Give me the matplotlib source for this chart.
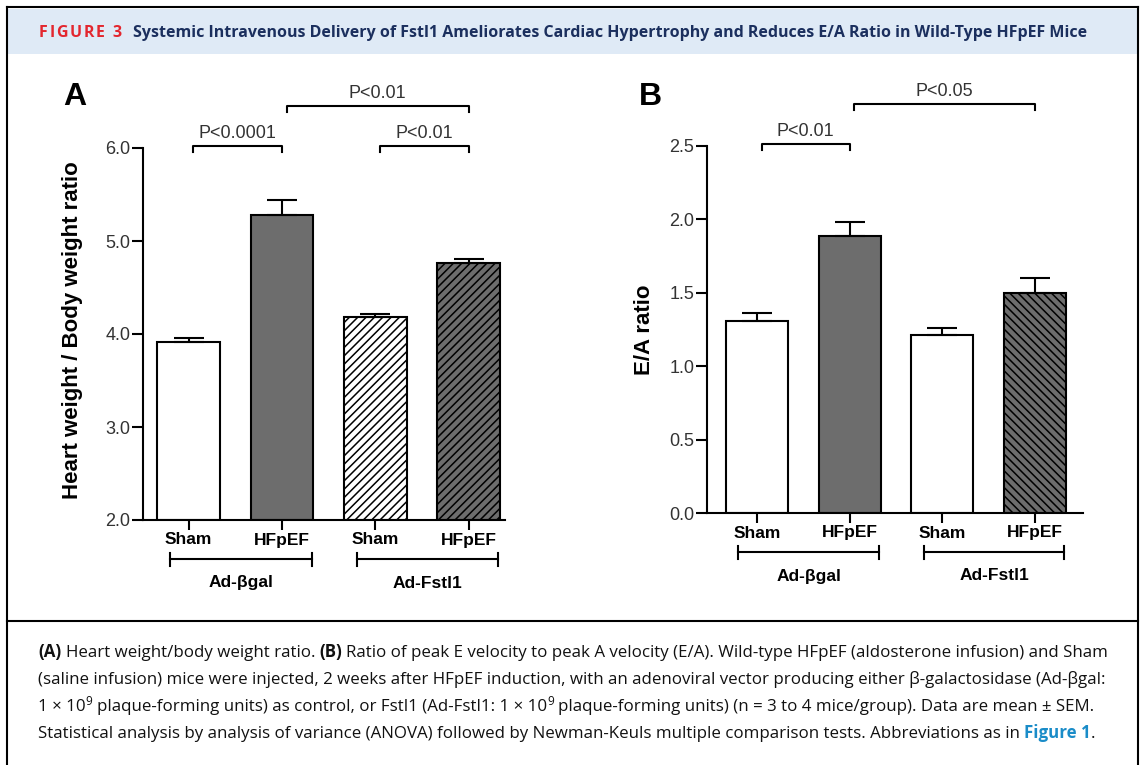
import matplotlib
matplotlib.use('Agg')
import numpy as np
import matplotlib.pyplot as plt
from matplotlib.patches import Rectangle
from matplotlib.lines import Line2D

W, H, DPI = 1142, 765, 100

# values
conditions = ['Sham', 'HFpEF', 'Sham', 'HFpEF']
groups = ['Ad-βgal', 'Ad-Fstl1']
group_members = [(0, 1), (2, 3)]

hw_ratio = [3.91, 5.28, 4.18, 4.76]
hw_sem = [0.05, 0.16, 0.03, 0.05]
hw_ticks = [2.0, 3.0, 4.0, 5.0, 6.0]
hw_pvals = [(0, 1, 'P<0.0001'), (1, 3, 'P<0.01'), (2, 3, 'P<0.01')]

ea_ratio = [1.31, 1.89, 1.21, 1.50]
ea_sem = [0.05, 0.09, 0.05, 0.10]
ea_ticks = [0.0, 0.5, 1.0, 1.5, 2.0, 2.5]
ea_pvals = [(0, 1, 'P<0.01'), (1, 3, 'P<0.05')]

fig_label = 'FIGURE 3'
title = ('Systemic Intravenous Delivery of Fstl1 Ameliorates Cardiac Hypertrophy '
         'and Reduces E/A Ratio in Wild-Type HFpEF Mice')

REG, BOLD, SUP, LINK = 'reg', 'bold', 'sup', 'link'
caption = [
    [('(A)', BOLD), (' Heart weight/body weight ratio. ', REG), ('(B)', BOLD),
     (' Ratio of peak E velocity to peak A velocity (E/A). Wild-type HFpEF '
      '(aldosterone infusion) and Sham', REG)],
    [('(saline infusion) mice were injected, 2 weeks after HFpEF induction, with an '
      'adenoviral vector producing either β-galactosidase (Ad-βgal:', REG)],
    [('1 × 10', REG), ('9', SUP),
     (' plaque-forming units) as control, or Fstl1 (Ad-Fstl1: 1 × 10', REG), ('9', SUP),
     (' plaque-forming units) (n = 3 to 4 mice/group). Data are mean ± SEM.', REG)],
    [('Statistical analysis by analysis of variance (ANOVA) followed by Newman-Keuls '
      'multiple comparison tests. Abbreviations as in ', REG), ('Figure 1', LINK), ('.', REG)],
]

GRAY = '#6d6d6d'
TXT = '#333333'
plt.rcParams['font.family'] = ['Liberation Sans', 'DejaVu Sans']
plt.rcParams['hatch.linewidth'] = 1.1

fig = plt.figure(figsize=(W / DPI, H / DPI), dpi=DPI)
renderer = fig.canvas.get_renderer()


def fx(x):
    return x / W


def fy(y):
    return 1 - y / H


def text_width(s, **kw):
    t = fig.text(0, 0, s, **kw)
    w = t.get_window_extent(renderer).width
    t.remove()
    return w


def bar_panel(rect, xlim, means, sems, ticks, fills, hatches, pvals, letter, letter_x):
    x0, y0, x1, y1 = rect
    ax = fig.add_axes([fx(x0), fy(y1), (x1 - x0) / W, (y1 - y0) / H])
    ax_h = y1 - y0
    x = np.arange(len(means))
    base = ticks[0]
    bars = ax.bar(x, np.array(means) - base, bottom=base, width=0.67, color=fills,
                  edgecolor='black', linewidth=1.5, zorder=2)
    for b, h in zip(bars, hatches):
        if h:
            b.set_hatch(h)
    ax.errorbar(x, means, yerr=[np.zeros(len(means)), sems], fmt='none', ecolor='black',
                elinewidth=1.5, capsize=11, capthick=1.5, zorder=3)

    ax.set_xlim(*xlim)
    ax.set_ylim(ticks[0], ticks[-1])
    for side in ['top', 'right']:
        ax.spines[side].set_visible(False)
    for side in ['left', 'bottom']:
        ax.spines[side].set_linewidth(1.5)
    ax.set_yticks(ticks)
    ax.set_yticklabels([f'{t:.1f}' for t in ticks])
    ax.set_xticks(x)
    ax.set_xticklabels(conditions, fontweight='bold', fontsize=12.5)
    ax.tick_params(axis='y', length=8, width=1.5, labelsize=13, labelcolor=TXT, pad=1)
    ax.tick_params(axis='x', length=7, width=1.5, pad=2)

    trans = ax.get_xaxis_transform()
    # significance brackets
    for i, j, label in pvals:
        level = 0 if j - i == 1 else 1
        yb = 1 + (2 + 40 * level) / ax_h
        tip = 6 / ax_h
        xa = i + 0.05
        ax.add_line(Line2D([xa, xa, j, j], [yb - tip, yb, yb, yb - tip], transform=trans,
                           color='black', lw=1.5, clip_on=False))
        ax.text((xa + j) / 2, yb + 8 / ax_h, label, transform=trans, ha='center',
                va='baseline', fontsize=13, color=TXT)

    # group brackets under the x axis
    for (a, b), name in zip(group_members, groups):
        ga, gb = a - 0.2, b + 0.32
        yg = -39 / ax_h
        cap = 6.5 / ax_h
        ax.add_line(Line2D([ga, gb], [yg, yg], transform=trans, color='black', lw=1.5,
                           clip_on=False))
        for gx in (ga, gb):
            ax.add_line(Line2D([gx, gx], [yg - cap, yg + cap], transform=trans,
                               color='black', lw=1.5, clip_on=False))
        ax.text((ga + gb) / 2, -63 / ax_h, name, transform=trans, ha='center', va='center',
                fontsize=12.5, fontweight='bold')

    fig.text(fx(letter_x), fy(97), letter, fontsize=23, fontweight='bold', ha='center',
             va='center')
    return ax


ax_a = bar_panel((143, 148, 505, 520), (-0.49, 3.39), hw_ratio, hw_sem, hw_ticks,
                 ['white', GRAY, 'white', GRAY], [None, None, '////', '////'], hw_pvals,
                 'A', 75)
fig.text(fx(73), fy(330), 'Heart weight / Body weight ratio', rotation=90, ha='center',
         va='center', fontsize=16, fontweight='bold')

ax_b = bar_panel((707, 146, 1083, 513), (-0.54, 3.52), ea_ratio, ea_sem, ea_ticks,
                 ['white', GRAY, 'white', GRAY], [None, None, None, '\\\\\\\\'], ea_pvals,
                 'B', 650)
fig.text(fx(645), fy(330), 'E/A ratio', rotation=90, ha='center', va='center',
         fontsize=16, fontweight='bold')

# frame, title band, caption box
fig.add_artist(Rectangle((fx(8), fy(54)), (1137 - 8) / W, 45 / H, transform=fig.transFigure,
                         facecolor='#dfeaf6', edgecolor='none', zorder=0))
for xs, ys in [((7, 1138), (7, 7)), ((7, 7), (7, 765)), ((1138, 1138), (7, 765)),
               ((7, 1138), (621, 621))]:
    fig.add_artist(Line2D([fx(v) for v in xs], [fy(v) for v in ys], transform=fig.transFigure,
                          color='black', lw=1.5))

TFONT = ['Open Sans', 'DejaVu Sans']
tsize = 10 * 956 / text_width(title, fontsize=10, fontweight='bold', family=TFONT)
# letter-spaced red label
x = 39
for ch in fig_label:
    if ch == ' ':
        x += 7
        continue
    t = fig.text(fx(x), fy(33), ch, fontsize=tsize, fontweight='bold', family=TFONT,
                 color='#e3262e', va='center')
    x += t.get_window_extent(renderer).width + 1.6
fig.text(fx(133), fy(33), title, fontsize=tsize, fontweight='bold', family=TFONT,
         color='#1b2f5e', va='center')

CFONT = ['Open Sans', 'DejaVu Sans']
line1 = ''.join(s for s, _ in caption[0])
csize = 11 * 1068 / text_width(line1, fontsize=11, family=CFONT)
space_w = text_width('a a', fontsize=csize, family=CFONT) - text_width('aa', fontsize=csize,
                                                                          family=CFONT)
styles = {REG: dict(), BOLD: dict(fontweight='bold'),
          SUP: dict(scale=0.7, rise=6), LINK: dict(fontweight='bold', color='#1a8cc8')}

for k, runs in enumerate(caption):
    x = 38
    y = 657 + 27 * k
    for s, kind in runs:
        st = dict(styles[kind])
        scale = st.pop('scale', 1)
        rise = st.pop('rise', 0)
        color = st.pop('color', '#111111')
        core = s.strip(' ')
        x += (len(s) - len(s.lstrip(' '))) * space_w
        t = fig.text(fx(x), fy(y - rise), core, fontsize=csize * scale, family=CFONT,
                     va='baseline', color=color, **st)
        x += t.get_window_extent(renderer).width
        x += (len(s) - len(s.rstrip(' '))) * space_w

fig.savefig('out.png', dpi=DPI, facecolor='white')
